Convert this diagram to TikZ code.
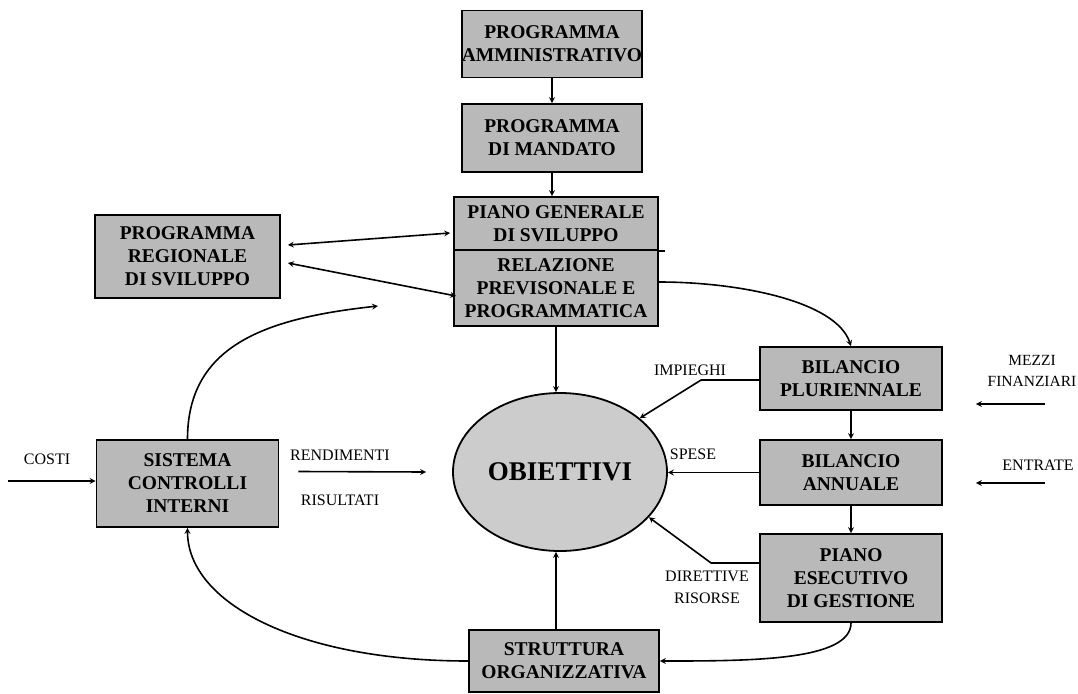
\documentclass[tikz,border=0pt]{standalone}
\usepackage{fontspec}
\setmainfont{Liberation Serif}
\usetikzlibrary{shapes.geometric, arrows, calc}
\tikzstyle{arrow} = [line width=1.6pt,->,>=stealth]
\tikzstyle{darrow} = [line width=1.6pt,<->,>=stealth]
\tikzstyle{box} = [draw, line width=1.8pt, fill=gray!55, align=center, inner sep=0pt, font=\fontsize{19.5}{23}\selectfont\bfseries]
\tikzstyle{lbl} = [align=center, inner sep=0pt, font=\fontsize{16}{22}\selectfont]

\begin{document}
\begin{tikzpicture}[x=1pt, y=-1pt]
        \useasboundingbox (0,0) rectangle (1078,693);

        % colonna centrale
        \node at (552,44) [box, minimum width=180pt, minimum height=67pt] (amm) {PROGRAMMA\\AMMINISTRATIVO};
        \node at (552,138) [box, minimum width=180pt, minimum height=68pt] (mand) {PROGRAMMA\\DI MANDATO};
        \node at (556,223.5) [box, minimum width=204pt, minimum height=53pt] (pgs) {PIANO GENERALE\\DI SVILUPPO};
        \node at (556,288) [box, minimum width=204pt, minimum height=76pt] (rpp) {RELAZIONE\\PREVISONALE E\\PROGRAMMATICA};
        \node at (560,472) [ellipse, draw, line width=1.8pt, fill=gray!40, minimum width=214pt, minimum height=158pt, font=\fontsize{27}{30}\selectfont\bfseries] (obj) {OBIETTIVI};
        \node at (564,661) [box, minimum width=190pt, minimum height=62pt] (strut) {STRUTTURA\\ORGANIZZATIVA};

        % sinistra
        \node at (187.5,256.5) [box, minimum width=185pt, minimum height=83pt] (reg) {PROGRAMMA\\REGIONALE\\DI SVILUPPO};
        \node at (187.5,483.5) [box, minimum width=182pt, minimum height=87pt] (sci) {SISTEMA\\CONTROLLI\\INTERNI};

        % destra
        \node at (851,378.5) [box, minimum width=182pt, minimum height=63pt] (bp) {BILANCIO\\PLURIENNALE};
        \node at (851,472.5) [box, minimum width=182pt, minimum height=65pt] (ba) {BILANCIO\\ANNUALE};
        \node at (851,578) [box, minimum width=182pt, minimum height=88pt] (pe) {PIANO\\ESECUTIVO\\DI GESTIONE};

        % etichette
        \node at (47,459) [lbl] (costi) {COSTI};
        \node at (340,455) [lbl] (rend) {RENDIMENTI};
        \node at (340,500) [lbl] (ris) {RISULTATI};
        \node at (690,370) [lbl] (imp) {IMPIEGHI};
        \node at (693,454) [lbl] (spese) {SPESE};
        \node at (707,587) [lbl] (dir) {DIRETTIVE\\RISORSE};
        \node at (1032,371) [lbl, font=\fontsize{15.5}{21}\selectfont] (mezzi) {MEZZI\\FINANZIARI};
        \node at (1038,465) [lbl] (entr) {ENTRATE};

        \coordinate (costin) at (8,481);
        \coordinate (mezin) at (1045,404);
        \coordinate (entin) at (1045,483);
        \coordinate (ret) at (378,306);

        \draw[arrow] (amm) -- (mand);
        \draw[arrow] (mand.south) -- (mand.south |- pgs.north);
        \draw[line width=1.8pt] (pgs.south east) -- ++(6,0);
        \draw[arrow] (rpp.south) -- (rpp.south |- obj.north);
        \draw[arrow] (strut.north -| rpp.south) -- (rpp.south |- obj.south);

        \draw[darrow] ($(reg.east)+(7,-11.5)$) -- ($(pgs.west)+(-3,9.5)$);
        \draw[darrow] ($(reg.east)+(7,6.5)$) -- ($(rpp.west)+(3,8)$);

        \draw[arrow] ($(rpp.east)+(0,-6)$) .. controls +(80,0) and +(-15,-45) .. (bp.north);
        \draw[arrow] (bp) -- (ba);
        \draw[arrow] (ba) -- (pe);

        \draw[arrow] ($(bp.west)+(0,1.5)$) -- ++(-58,0) -- (obj.34);
        \draw[arrow] (ba.west) -- (obj.east |- ba.west);
        \draw[arrow] ($(pe.west)+(0,-15)$) -- ++(-48,0) -- (obj.-27);

        \draw[arrow] (mezin) -- ($(mezin -| ba.east)+(33,0)$);
        \draw[arrow] (entin) -- ($(entin -| ba.east)+(33,0)$);

        \draw[arrow] (costin) -- (sci.west |- costin);
        \draw[arrow] ($(sci.east)+(19,-12)$) -- ($(obj.west)+(-26,0)$);

        \draw[arrow] (sci.north) .. controls +(0,-95) and +(-110,12) .. (ret);
        \draw[arrow] (strut.west) .. controls +(-170,0) and +(0,75) .. (sci.south);
        \draw[arrow] (pe.south) .. controls +(0,38) and +(90,0) .. (strut.east);

    \end{tikzpicture}
\end{document}
